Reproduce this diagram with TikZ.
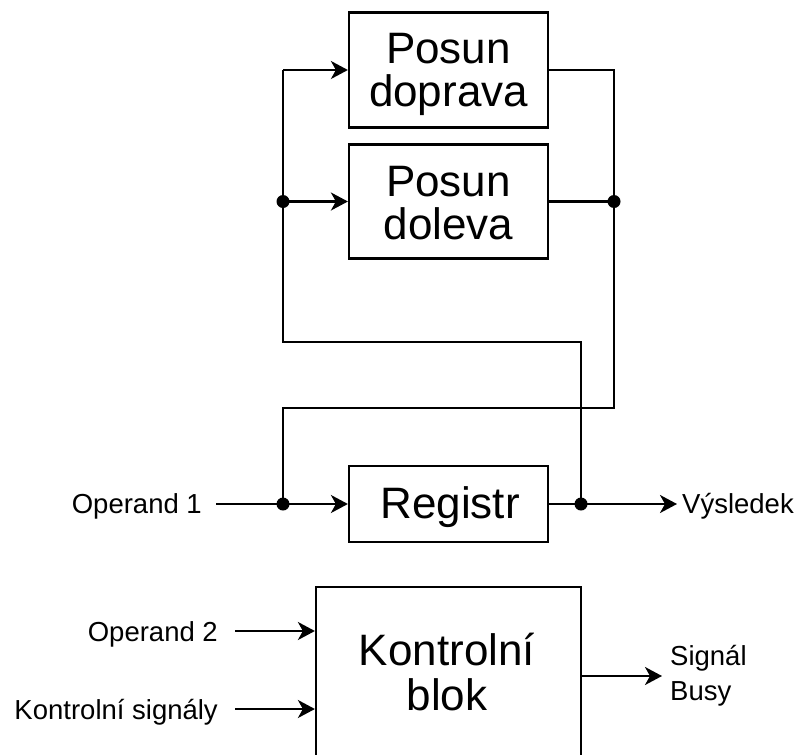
\documentclass[tikz,border=0pt]{standalone}
\usepackage{fontspec}
\setmainfont{Liberation Sans}
\usetikzlibrary{arrows.meta}
\begin{document}
\begin{tikzpicture}[x=1pt,y=-1pt,
  wire/.style={line width=2.2pt,line join=miter},
  arr/.style={wire,-{Stealth[length=17pt,width=18pt,inset=5pt]}},
  box/.style={draw,line width=2.2pt,rectangle,inner sep=0pt},
  big/.style={inner sep=0pt,font=\fontsize{44}{44}\selectfont},
  small/.style={inner sep=0pt,font=\fontsize{27.5}{27.5}\selectfont},
  dotc/.style={circle,fill=black,inner sep=0pt,minimum size=13pt}]
\useasboundingbox (0,0) rectangle (806,755);
\clip (0,0) rectangle (806,755);
\fill[white] (0,0) rectangle (806,755);

% boxes
\node[box,minimum width=199pt,minimum height=115pt] (dopr) at (448.5,70) {};
\node[box,minimum width=199pt,minimum height=114pt] (dolv) at (448.5,201.5) {};
\node[box,minimum width=199pt,minimum height=76pt] (reg) at (448.5,504) {};
\node[box,minimum width=265pt,minimum height=193pt] (kb) at (448.5,683.5) {};

% box texts
\node[big,anchor=base] (t1) at (448.5,63) {Posun};
\node[big,anchor=base] (t2) at (448.5,106) {doprava};
\node[big,anchor=base] (t3) at (448.5,196) {Posun};
\node[big,anchor=base] (t4) at (448.5,239) {doleva};
\node[big,anchor=base] (t5) at (450,518) {Registr};
\node[big,anchor=base] (t6) at (447,665) {Kontrolní};
\node[big,anchor=base] (t7) at (447,710) {blok};

% labels
\node[small,anchor=base east] (op1) at (202,513) {Operand 1};
\node[small,anchor=base west] (vys) at (682,513) {Výsledek};
\node[small,anchor=base east] (op2) at (218,641) {Operand 2};
\node[small,anchor=base east] (ks) at (218,719) {Kontrolní signály};
\node[small,anchor=base west] (sg1) at (670,665) {Signál};
\node[small,anchor=base west] (sg2) at (670,700) {Busy};

% junctions and bends
\coordinate (tl) at (283,70);
\coordinate (jl) at (283,201.5);
\coordinate (bl) at (283,342);
\coordinate (br) at (581,342);
\coordinate (jout) at (581,504);
\coordinate (tr) at (614,70);
\coordinate (jr) at (614,201.5);
\coordinate (rb) at (614,408);
\coordinate (lb) at (283,408);
\coordinate (jin) at (283,504);
\coordinate (o1) at (216,504);
\coordinate (vo) at (677,504);
\coordinate (o2) at (235,631);
\coordinate (o3) at (235,709);
\coordinate (so) at (662,676);

% connectors
\draw[wire] (tl) -- (bl) -- (br) -- (jout);
\draw[arr] (tl) -- (dopr.west);
\draw[arr] (jl) -- (dolv.west);
\draw[wire] (dopr.east) -- (tr) -- (rb) -- (lb) -- (jin);
\draw[wire] (dolv.east) -- (jr);
\draw[arr] (o1) -- (reg.west);
\draw[wire] (reg.east) -- (jout);
\draw[arr] (jout) -- (vo);
\draw[arr] (o2) -- (o2 -| kb.west);
\draw[arr] (o3) -- (o3 -| kb.west);
\draw[arr] (so -| kb.east) -- (so);

% dots
\node[dotc] (d1) at (jl) {};
\node[dotc] (d2) at (jr) {};
\node[dotc] (d3) at (jin) {};
\node[dotc] (d4) at (jout) {};
\end{tikzpicture}
\end{document}
